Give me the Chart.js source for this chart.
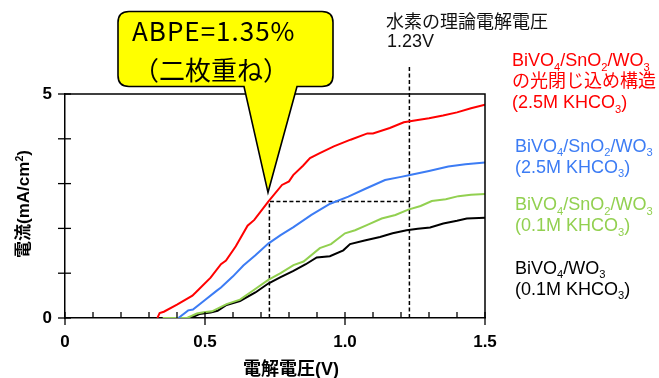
<!DOCTYPE html>
<html>
<head>
<meta charset="utf-8">
<script src="https://cdn.jsdelivr.net/npm/chart.js@4.4.1/dist/chart.umd.min.js"></script>
<style>
  html, body { margin: 0; padding: 0; background: #fff; }
  #wrap { width: 659px; height: 378px; }
</style>
</head>
<body>
<div id="wrap"><canvas id="ivChart" width="659" height="378"></canvas></div>
<script>
// 電解電圧 (V) と 電流 (mA/cm2) の読み取り値
const redX = [0.330, 0.338, 0.353, 0.40, 0.455, 0.473, 0.52, 0.557, 0.575, 0.61, 0.652, 0.676, 0.726, 0.775, 0.80, 0.815, 0.85, 0.875, 0.91, 0.96, 1.02, 1.08, 1.10, 1.16, 1.21, 1.26, 1.30, 1.35, 1.40, 1.45, 1.50];
const redY = [0.0, 0.11, 0.14, 0.3, 0.5, 0.61, 0.9, 1.2, 1.28, 1.6, 2.06, 2.19, 2.6, 2.97, 3.05, 3.19, 3.4, 3.57, 3.68, 3.83, 3.98, 4.12, 4.12, 4.24, 4.37, 4.42, 4.46, 4.52, 4.59, 4.68, 4.76];

const blueX = [0.405, 0.44, 0.457, 0.50, 0.54, 0.557, 0.60, 0.637, 0.68, 0.726, 0.77, 0.816, 0.88, 0.947, 1.012, 1.071, 1.143, 1.20, 1.232, 1.30, 1.369, 1.43, 1.50];
const blueY = [0.0, 0.17, 0.19, 0.4, 0.6, 0.68, 0.93, 1.17, 1.4, 1.66, 1.85, 2.03, 2.3, 2.55, 2.71, 2.88, 3.08, 3.15, 3.19, 3.28, 3.38, 3.43, 3.47];

const greenX = [0.349, 0.436, 0.471, 0.495, 0.525, 0.577, 0.625, 0.673, 0.726, 0.77, 0.816, 0.852, 0.91, 0.95, 1.0, 1.036, 1.08, 1.131, 1.18, 1.226, 1.27, 1.31, 1.36, 1.405, 1.45, 1.50];
const greenY = [0.0, 0.0, 0.1, 0.13, 0.15, 0.31, 0.41, 0.62, 0.85, 1.0, 1.18, 1.26, 1.56, 1.65, 1.89, 1.96, 2.08, 2.22, 2.3, 2.42, 2.5, 2.61, 2.65, 2.72, 2.75, 2.77];

const blackX = [0.44, 0.462, 0.48, 0.52, 0.545, 0.577, 0.625, 0.68, 0.726, 0.77, 0.816, 0.86, 0.899, 0.946, 0.994, 1.018, 1.07, 1.125, 1.17, 1.22, 1.26, 1.304, 1.351, 1.40, 1.435, 1.50];
const blackY = [0.0, 0.04, 0.09, 0.12, 0.16, 0.29, 0.38, 0.57, 0.77, 0.91, 1.05, 1.2, 1.35, 1.38, 1.51, 1.65, 1.73, 1.81, 1.89, 1.96, 1.99, 2.02, 2.11, 2.17, 2.22, 2.24];

// 補助線 (ABPE の動作点と 1.23V)
const guideX = [0.73, 0.73, 1.23];
const guideY = [0, 2.6, 2.6];
const theoryX = [1.23, 1.23];
const theoryY = [0, 5.65];

const xTickValues = [0, 0.5, 1.0, 1.5];
const xTickLabels = ['0', '0.5', '1.0', '1.5'];
const yTickValues = [0, 5];
const yTickLabels = ['0', '5'];

const seriesColors = ['#ff0000', '#3c7cf4', '#92d050', '#000000'];
const legendLines = [
  ['BiVO_4/SnO_2/WO_3', 'の光閉じ込め構造', '(2.5M KHCO_3)'],
  ['BiVO_4/SnO_2/WO_3', '(2.5M KHCO_3)'],
  ['BiVO_4/SnO_2/WO_3', '(0.1M KHCO_3)'],
  ['BiVO_4/WO_3', '(0.1M KHCO_3)']
];
const calloutLines = ['ABPE=1.35%', '（二枚重ね）'];
const calloutTip = [0.725, 2.8];
const theoryLines = ['水素の理論電解電圧', '1.23V'];
const xTitle = '電解電圧(V)';
const yTitle = '電流(mA/cm^2)';

const FONT = "'Liberation Sans', 'Noto Sans CJK JP', sans-serif";

const pts = (xs, ys) => xs.map((x, i) => ({ x: x, y: ys[i] }));

function richText(ctx, str, x, y, size, weight) {
  let cx = x;
  for (let i = 0; i < str.length; i++) {
    let ch = str[i], s = size, dy = 0;
    if ((ch === '_' || ch === '^') && i + 1 < str.length) {
      s = size * 0.62;
      dy = ch === '_' ? size * 0.26 : -size * 0.38;
      ch = str[++i];
    }
    ctx.font = (weight || '') + ' ' + s + 'px ' + FONT;
    ctx.fillText(ch, cx, y + dy);
    cx += ctx.measureText(ch).width;
  }
  return cx - x;
}

function richWidth(ctx, str, size, weight) {
  let w = 0;
  for (let i = 0; i < str.length; i++) {
    let ch = str[i], s = size;
    if ((ch === '_' || ch === '^') && i + 1 < str.length) { s = size * 0.62; ch = str[++i]; }
    ctx.font = (weight || '') + ' ' + s + 'px ' + FONT;
    w += ctx.measureText(ch).width;
  }
  return w;
}

const decorations = {
  id: 'decorations',
  afterDraw(chart) {
    const ctx = chart.ctx;
    const a = chart.chartArea;
    const xs = chart.scales.x, ys = chart.scales.y;
    ctx.save();

    // 枠
    ctx.strokeStyle = '#000';
    ctx.lineWidth = 1.5;
    ctx.beginPath();
    ctx.moveTo(a.left, a.top); ctx.lineTo(a.right, a.top); ctx.lineTo(a.right, a.bottom);
    ctx.stroke();

    // 目盛り
    ctx.lineWidth = 1.3;
    xs.ticks.forEach(t => {
      const px = xs.getPixelForValue(t.value);
      const major = xTickValues.some(v => Math.abs(v - t.value) < 1e-6);
      ctx.beginPath();
      ctx.moveTo(px, a.bottom - 6);
      ctx.lineTo(px, major ? a.bottom + 7 : a.bottom);
      ctx.stroke();
    });
    ys.ticks.forEach(t => {
      const py = ys.getPixelForValue(t.value);
      ctx.beginPath();
      ctx.moveTo(a.left - 7, py);
      ctx.lineTo(a.left + 6, py);
      ctx.stroke();
    });

    // 吹き出し
    const tx = xs.getPixelForValue(calloutTip[0]);
    const ty = ys.getPixelForValue(calloutTip[1]);
    const L = tx - 150, R = tx + 65, T = ty - 181, B = ty - 106, r = 11;
    ctx.beginPath();
    ctx.moveTo(L + r, T);
    ctx.lineTo(R - r, T); ctx.quadraticCurveTo(R, T, R, T + r);
    ctx.lineTo(R, B - r); ctx.quadraticCurveTo(R, B, R - r, B);
    ctx.lineTo(tx + 29, B);
    ctx.lineTo(tx, ty);
    ctx.lineTo(tx - 24, B);
    ctx.lineTo(L + r, B); ctx.quadraticCurveTo(L, B, L, B - r);
    ctx.lineTo(L, T + r); ctx.quadraticCurveTo(L, T, L + r, T);
    ctx.closePath();
    ctx.fillStyle = '#ffff00';
    ctx.fill();
    ctx.lineWidth = 1.6;
    ctx.strokeStyle = '#000';
    ctx.stroke();
    ctx.fillStyle = '#000';
    ctx.textBaseline = 'alphabetic';
    ctx.textAlign = 'left';
    ctx.font = "26px 'Noto Sans CJK JP', sans-serif";
    ctx.letterSpacing = '1px';
    ctx.fillText(calloutLines[0], L + 14, T + 29);
    ctx.letterSpacing = '0px';
    ctx.fillText(calloutLines[1], L + 15, T + 68);

    // 理論電解電圧
    ctx.fillStyle = '#111';
    ctx.font = "18px 'Noto Sans CJK JP', sans-serif";
    ctx.fillText(theoryLines[0], 386, 28);
    ctx.font = '18px ' + FONT;
    ctx.fillText(theoryLines[1], 387, 47);

    // 凡例テキスト
    const legendTop = [66, 151.5, 210, 273.5];
    legendLines.forEach((lines, k) => {
      ctx.fillStyle = seriesColors[k];
      lines.forEach((ln, j) => richText(ctx, ln, k === 0 ? 512 : 515, legendTop[k] + j * 21, 18));
    });

    // 軸タイトル
    ctx.fillStyle = '#000';
    ctx.font = 'bold 18px ' + FONT;
    const xw = ctx.measureText(xTitle).width;
    ctx.fillText(xTitle, 291 - xw / 2, 375);
    ctx.save();
    ctx.translate(29, 204);
    ctx.rotate(-Math.PI / 2);
    const yw = richWidth(ctx, yTitle, 17, 'bold');
    richText(ctx, yTitle, -yw / 2, 0, 17, 'bold');
    ctx.restore();

    ctx.restore();
  }
};

const ctx = document.getElementById('ivChart').getContext('2d');
new Chart(ctx, {
  type: 'line',
  data: {
    datasets: [
      { data: pts(redX, redY), borderColor: seriesColors[0], borderWidth: 2, pointRadius: 0 },
      { data: pts(blueX, blueY), borderColor: seriesColors[1], borderWidth: 2, pointRadius: 0 },
      { data: pts(greenX, greenY), borderColor: seriesColors[2], borderWidth: 2, pointRadius: 0 },
      { data: pts(blackX, blackY), borderColor: seriesColors[3], borderWidth: 2, pointRadius: 0 },
      { data: pts(guideX, guideY), borderColor: '#000', borderWidth: 1.5, borderDash: [4, 2.5], pointRadius: 0 },
      { data: pts(theoryX, theoryY), borderColor: '#000', borderWidth: 1.5, borderDash: [4, 2.5], pointRadius: 0, clip: false }
    ]
  },
  options: {
    responsive: false,
    animation: false,
    devicePixelRatio: 1,
    layout: { padding: { left: 0, right: 174, top: 94, bottom: 0 } },
    plugins: { legend: { display: false }, tooltip: { enabled: false } },
    scales: {
      x: {
        type: 'linear', min: 0, max: 1.5,
        grid: { display: false, drawTicks: false },
        border: { color: '#000', width: 1.5 },
        ticks: {
          stepSize: 0.1, autoSkip: false, maxRotation: 0, padding: 14, color: '#000',
          font: { family: FONT, size: 17, weight: 'bold' },
          callback: (v) => {
            const i = xTickValues.findIndex(t => Math.abs(t - v) < 1e-6);
            return i >= 0 ? xTickLabels[i] : '';
          }
        },
        afterFit: (s) => { s.height = 60; }
      },
      y: {
        min: 0, max: 5,
        grid: { display: false, drawTicks: false },
        border: { color: '#000', width: 1.5 },
        ticks: {
          stepSize: 1, autoSkip: false, padding: 13, color: '#000',
          font: { family: FONT, size: 17, weight: 'bold' },
          callback: (v) => {
            const i = yTickValues.findIndex(t => Math.abs(t - v) < 1e-6);
            return i >= 0 ? yTickLabels[i] : '';
          }
        },
        afterFit: (s) => { s.width = 65; }
      }
    }
  },
  plugins: [decorations]
});
</script>
</body>
</html>
